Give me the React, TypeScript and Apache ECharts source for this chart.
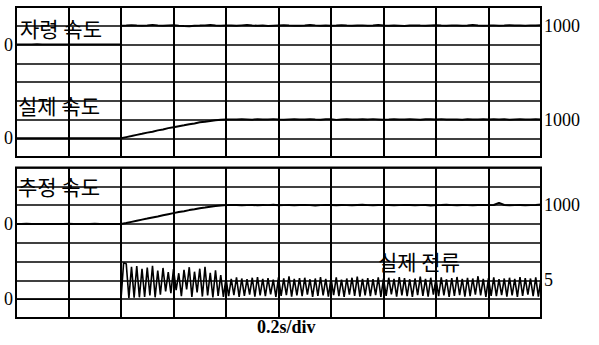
import React, { useEffect, useRef } from "react";
import * as echarts from "echarts";

// time axis: 0 .. 2.0 s, 0.2 s per division
const SPEED_DT = 0.02;
const CURRENT_DT = 0.01;
const STEP_TIME = 0.4;

// 자령 속도 (command speed), before and after the step at 0.4 s
const commandPre = [0, 5, -5, 0, 8, -3, 0, 4, -6, 2, 0, -4, 6, 0, -2, 3, 0, -5, 4, 0, 0];
const commandPost = [
  1005, 1012, 1030, 1008, 995, 1015, 1040, 1010, 1002, 1018,
  1025, 1000, 985, 975, 1005, 1012, 1020, 1045, 1010, 1000,
  1015, 1008, 995, 1020, 1035, 1010, 1000, 1012, 990, 1005,
  1018, 1030, 1010, 1002, 995, 1015, 1040, 1020, 1005, 1010,
  1000, 1012, 1025, 1008, 995, 1010, 1020, 1005, 1015, 1045,
  1010, 1000, 1018, 1005, 990, 1012, 1020, 1008, 1000, 1015,
  1030, 1010, 1005, 1020, 1012, 995, 1008, 1040, 1015, 1005,
  1010, 1020, 1000, 1012, 1030, 1008, 1015, 1005, 1020, 1010,
  1025,
];

// 실제 속도 (actual speed), t = 0 .. 2.0 s
const actualSpeed = [
  0, 3, -4, 2, 0, -5, 4, 0, -2, 5, 0, -3, 2, 6, -4, 0, 3, -2, 0, 4,
  0, 60, 115, 180, 235, 300, 350, 420, 470, 540, 590, 640, 690, 745, 790, 850, 880, 920, 960, 985, 1000,
  1005, 995, 1010, 1000, 990, 1015, 1005, 998, 1020, 1002,
  985, 1000, 1010, 995, 1005, 1018, 1000, 990, 1008, 1012,
  980, 1000, 1015, 1005, 995, 1010, 1000, 1020, 1005, 990,
  1000, 1012, 998, 1005, 1015, 1000, 985, 1008, 1010, 1000,
  1020, 995, 1005, 1000, 990, 1015, 1005, 1000, 1010, 995,
  1008, 1000, 1015, 990, 1005, 1012, 1000, 995, 1010, 1005,
];

// 추정 속도 (estimated speed), t = 0 .. 2.0 s
const estimatedSpeed = [
  0, -3, 4, 0, 2, -5, 0, 3, -2, 0, 5, -4, 0, 2, -3, 4, 0, -2, 3, 0,
  0, 45, 110, 170, 230, 285, 345, 400, 460, 520, 575, 630, 680, 735, 780, 830, 870, 915, 950, 980, 1000,
  1010, 1005, 995, 1000, 1012, 990, 1005, 1000, 1015, 995,
  1000, 1008, 990, 1005, 1010, 1000, 985, 1000, 1012, 1005,
  995, 1010, 1000, 990, 1005, 1015, 1000, 995, 1008, 1000,
  1010, 990, 1000, 1012, 1005, 995, 1000, 1010, 985, 1000,
  1005, 1015, 1000, 995, 1008, 1000, 990, 1005, 1010, 1000,
  1005, 1120, 1005, 995, 1000, 1005, 990, 1000, 1010, 1030,
];

// 실제 전류 (actual current), from t = 0.4 s, 0.01 s per sample
const currentValues = [
  0, 9.7, 9.4, 0.3, 8.6, 0.4, 8.8, 0.5, 8.1, 0.6,
  8.4, 1.0, 8.9, 0.5, 7.6, 1.2, 8.3, 2.1, 7.2, 1.6,
  8.0, 2.4, 6.9, 0.8, 7.8, 2.6, 8.5, 0.6, 7.3, 1.8,
  8.1, 0.7, 8.6, 1.0, 7.0, 0.5, 7.7, 0.9, 6.4, 0.6,
  5.6, 0.8, 5.4, 1.1, 5.8, 0.6, 5.5, 0.9, 5.3, 1.2, 5.7, 0.7, 5.9, 1.0, 5.4, 0.8, 5.6, 1.3, 5.2, 0.6,
  5.8, 0.9, 5.5, 1.1, 6.1, 0.7, 5.4, 1.0, 5.6, 0.8, 5.7, 1.2, 5.3, 0.6, 5.5, 0.9, 5.9, 1.0, 5.4, 0.7,
  5.6, 1.1, 5.8, 0.8, 5.2, 0.6, 5.5, 1.2, 5.7, 0.9, 6.0, 0.7, 5.4, 1.0, 5.6, 0.8, 5.3, 1.1, 5.8, 0.6,
  5.5, 0.9, 5.7, 1.3, 5.4, 0.7, 5.9, 1.0, 5.6, 0.8, 5.3, 0.6, 5.5, 1.1, 6.0, 0.9, 5.4, 0.7, 5.7, 1.2,
  5.5, 0.8, 5.8, 1.0, 5.3, 0.6, 5.6, 0.9, 5.9, 1.1, 5.4, 0.7, 5.7, 0.8, 5.5, 1.2, 6.1, 1.0, 5.4, 0.6,
  5.6, 0.9, 5.8, 0.8, 5.3, 1.1, 5.5, 0.7, 5.7, 1.0, 5.4, 0.6, 5.9, 0.9, 5.6, 1.2, 5.5, 0.8, 5.8, 0.7,
  5.6,
];

// axis tick labels shown for each trace
const zeroLabel = "0";
const speedLabel = "1000";
const currentLabel = "5";
const traceTitles = ["자령 속도", "실제 속도", "추정 속도", "실제 전류"];
const timeBaseLabel = "0.2s/div";

const INK = "#000";

function yAxis(gridIndex: number, position: string, min: number, max: number, interval: number, showValue: number, text: string, split: boolean) {
  return {
    type: "value",
    gridIndex,
    position,
    min,
    max,
    interval,
    axisLine: { show: false },
    axisTick: { show: false },
    splitLine: { show: split, lineStyle: { color: INK, width: 1.5 } },
    axisLabel: {
      show: true,
      margin: 3,
      color: INK,
      fontFamily: "Liberation Serif",
      fontSize: 18,
      formatter: (v: number) => (Math.abs(v - showValue) < 1e-9 ? text : ""),
    },
  };
}

function xAxis(gridIndex: number) {
  return {
    type: "value",
    gridIndex,
    min: 0,
    max: 2,
    interval: 0.2,
    axisLine: { show: false },
    axisTick: { show: false },
    axisLabel: { show: false },
    splitLine: { show: true, lineStyle: { color: INK, width: 2 } },
  };
}

export default function App() {
  const ref = useRef<HTMLDivElement>(null);
  useEffect(() => {
    if (!ref.current) return;
    const chart = echarts.init(ref.current, undefined, { renderer: "svg" });

    const commandData = [
      ...commandPre.map((v, i) => [i * SPEED_DT, v]),
      ...commandPost.map((v, i) => [STEP_TIME + i * SPEED_DT, v]),
    ];
    const actualData = actualSpeed.map((v, i) => [i * SPEED_DT, v]);
    const estData = estimatedSpeed.map((v, i) => [i * SPEED_DT, v]);
    const currentData = [[0, 0], ...currentValues.map((v, i) => [STEP_TIME + i * CURRENT_DT, v])];

    const line = (data: number[][], xi: number, yi: number, w = 2) => ({
      type: "line",
      data,
      xAxisIndex: xi,
      yAxisIndex: yi,
      showSymbol: false,
      symbol: "none",
      lineStyle: { color: INK, width: w },
      silent: true,
    });

    const korean = { fontFamily: "Noto Sans CJK KR", fontSize: 21, fill: INK };

    chart.setOption({
      animation: false,
      backgroundColor: "#fff",
      grid: [
        { left: 16, top: 7, width: 525, height: 150, show: true, borderColor: INK, borderWidth: 2, backgroundColor: "transparent" },
        { left: 16, top: 167.5, width: 525, height: 150.5, show: true, borderColor: INK, borderWidth: 2, backgroundColor: "transparent" },
      ],
      xAxis: [xAxis(0), xAxis(1)],
      yAxis: [
        yAxis(0, "left", -6000, 2000, 1000, 0, zeroLabel, true),
        yAxis(0, "right", -6000, 2000, 1000, 1000, speedLabel, false),
        yAxis(0, "left", -1000, 7000, 1000, 0, zeroLabel, false),
        yAxis(0, "right", -1000, 7000, 1000, 1000, speedLabel, false),
        yAxis(1, "left", -5000, 3000, 1000, 0, zeroLabel, true),
        yAxis(1, "right", -5000, 3000, 1000, 1000, speedLabel, false),
        yAxis(1, "left", -5, 35, 5, 0, zeroLabel, false),
        yAxis(1, "right", -5, 35, 5, 5, currentLabel, false),
      ],
      series: [
        line(commandData, 0, 0),
        line(actualData, 0, 2),
        line(estData, 1, 4),
        line(currentData, 1, 6, 1.6),
      ],
      graphic: [
        { type: "text", left: 20, top: 17, style: { ...korean, text: traceTitles[0] } },
        { type: "text", left: 18, top: 94, style: { ...korean, text: traceTitles[1] } },
        { type: "text", left: 18, top: 175, style: { ...korean, text: traceTitles[2] } },
        { type: "text", left: 378, top: 250, style: { ...korean, text: traceTitles[3] } },
        { type: "text", left: 257, top: 318, style: { fontFamily: "Liberation Serif", fontSize: 18, fontWeight: "bold", fill: INK, text: timeBaseLabel } },
      ],
    });
    return () => chart.dispose();
  }, []);
  return <div ref={ref} style={{ position: "absolute", left: 0, top: 0, width: 599, height: 345 }} />;
}
